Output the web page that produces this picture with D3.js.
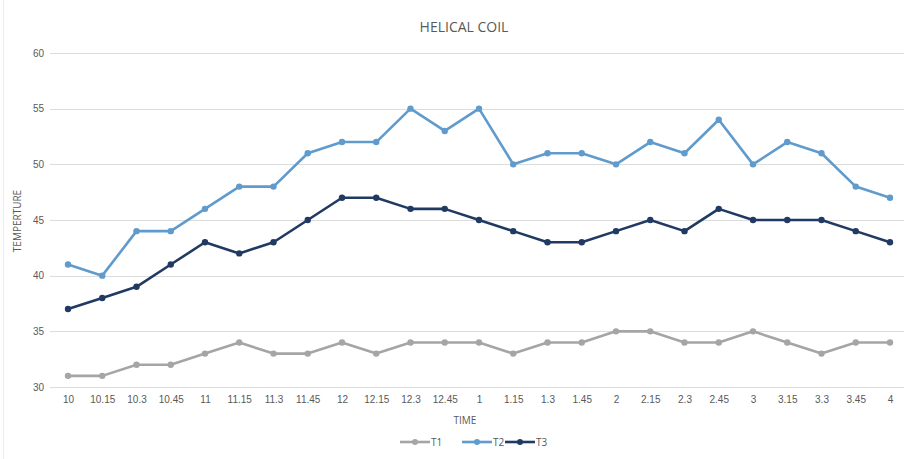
<!DOCTYPE html>
<html>
<head>
<meta charset="utf-8">
<script src="https://cdn.jsdelivr.net/npm/d3@7"></script>
<style>
  html, body { margin: 0; padding: 0; background: #fff; }
  svg { display: block; font-family: "Open Sans", "Noto Sans", sans-serif; }
</style>
</head>
<body>
<svg id="chart" width="918" height="459"></svg>
<script>
// Time readings (hour.minute) and the three temperature series
const times = ["10","10.15","10.3","10.45","11","11.15","11.3","11.45","12","12.15","12.3","12.45",
               "1","1.15","1.3","1.45","2","2.15","2.3","2.45","3","3.15","3.3","3.45","4"];
const t1 = [31,31,32,32,33,34,33,33,34,33,34,34,34,33,34,34,35,35,34,34,35,34,33,34,34];
const t2 = [41,40,44,44,46,48,48,51,52,52,55,53,55,50,51,51,50,52,51,54,50,52,51,48,47];
const t3 = [37,38,39,41,43,42,43,45,47,47,46,46,45,44,43,43,44,45,44,46,45,45,45,44,43];
const yTicks = [30,35,40,45,50,55,60];
const seriesNames = ["T1","T2","T3"];
const seriesColors = ["#a5a5a5","#5f9bcd","#213a63"];

const svg = d3.select("#chart");
const H = 459;

const x = d3.scalePoint().domain(times).range([68, 890]);
const y = d3.scaleLinear().domain([30, 60]).range([387, 53]);

// faint outer frame edge on the left
svg.append("line").attr("x1", 3.5).attr("x2", 3.5).attr("y1", 0).attr("y2", H)
  .attr("stroke", "#ececec").attr("stroke-width", 1);

// horizontal gridlines
svg.append("g").selectAll("line").data(yTicks).join("line")
  .attr("x1", 50).attr("x2", 904)
  .attr("y1", d => Math.round(y(d)) + 0.5).attr("y2", d => Math.round(y(d)) + 0.5)
  .attr("stroke", "#dcdcdc").attr("stroke-width", 1);

// y axis labels
const yAxis = d3.axisLeft(y).tickValues(yTicks).tickSize(0).tickPadding(0);
const gy = svg.append("g").attr("transform", "translate(44,0)").call(yAxis);
gy.select(".domain").remove();
gy.selectAll("text").attr("fill", "#595959").attr("font-size", 10);

// x axis labels
const xAxis = d3.axisBottom(x).tickSize(0).tickPadding(0);
const gx = svg.append("g").attr("transform", "translate(0,396)").call(xAxis);
gx.select(".domain").remove();
gx.selectAll("text").attr("fill", "#595959").attr("font-size", 10);

// title and axis titles
svg.append("text").attr("x", 464).attr("y", 32).attr("text-anchor", "middle")
  .attr("font-size", 14).attr("fill", "#595959").text("HELICAL COIL");
svg.append("text").attr("x", 465).attr("y", 424).attr("text-anchor", "middle")
  .attr("font-size", 10).attr("fill", "#595959").text("TIME");
svg.append("text").attr("transform", "translate(21,221) rotate(-90)").attr("text-anchor", "middle")
  .attr("font-size", 10).attr("fill", "#595959").text("TEMPERTURE");

// series lines with markers
const line = d3.line().x((d, i) => x(times[i])).y(d => y(d));
[t1, t2, t3].forEach((vals, k) => {
  const g = svg.append("g");
  g.append("path").datum(vals).attr("d", line)
    .attr("fill", "none").attr("stroke", seriesColors[k]).attr("stroke-width", 2.6)
    .attr("stroke-linejoin", "round");
  g.selectAll("circle").data(vals).join("circle")
    .attr("cx", (d, i) => x(times[i])).attr("cy", d => y(d)).attr("r", 3.2)
    .attr("fill", seriesColors[k]);
});

// legend
const legendX = [400, 462, 505];
const leg = svg.append("g");
seriesNames.forEach((name, k) => {
  const lx = legendX[k], ly = 442;
  leg.append("line").attr("x1", lx).attr("x2", lx + 30).attr("y1", ly).attr("y2", ly)
    .attr("stroke", seriesColors[k]).attr("stroke-width", 2.6);
  leg.append("circle").attr("cx", lx + 15).attr("cy", ly).attr("r", 3).attr("fill", seriesColors[k]);
  leg.append("text").attr("x", lx + 31).attr("y", ly + 3.5).attr("font-size", 10)
    .attr("fill", "#595959").text(name);
});
</script>
</body>
</html>
